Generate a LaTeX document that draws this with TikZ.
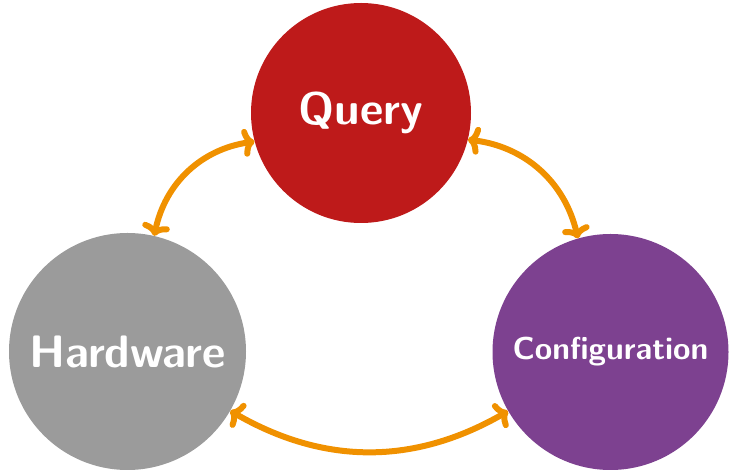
\documentclass[tikz,border=0pt]{standalone}
\usetikzlibrary{arrows.meta}
\definecolor{qred}{RGB}{190,26,26}
\definecolor{hgray}{RGB}{155,155,155}
\definecolor{cpurple}{RGB}{125,65,144}
\definecolor{arrorange}{RGB}{240,145,0}
\begin{document}
\begin{tikzpicture}[x=1pt,y=1pt,
  topic/.style={circle, inner sep=0pt, text=white, font=\sffamily\bfseries},
  link/.style={arrorange, line width=6pt, line cap=round,
    {Computer Modern Rightarrow[length=12pt,width=28pt]}-{Computer Modern Rightarrow[length=12pt,width=28pt]}}]
\useasboundingbox (0,0) rectangle (731,471);
\node[topic, fill=qred, minimum size=220pt, font=\sffamily\bfseries\fontsize{45.5}{50}\selectfont] (Q) at (361,358) {Query};
\node[topic, fill=hgray, minimum size=237pt, font=\sffamily\bfseries\fontsize{45.5}{50}\selectfont] (H) at (127.5,119.5) {Hardware};
\node[topic, fill=cpurple, minimum size=236pt, font=\sffamily\bfseries\fontsize{31.7}{36}\selectfont] (C) at (610.5,119) {Configuration};
\draw[link] (Q.195) to[bend right=35] (H.77);
\draw[link] (Q.-14) to[bend left=35] (C.106);
\draw[link] (H.-30) to[bend right=30] (C.210);
\end{tikzpicture}
\end{document}
